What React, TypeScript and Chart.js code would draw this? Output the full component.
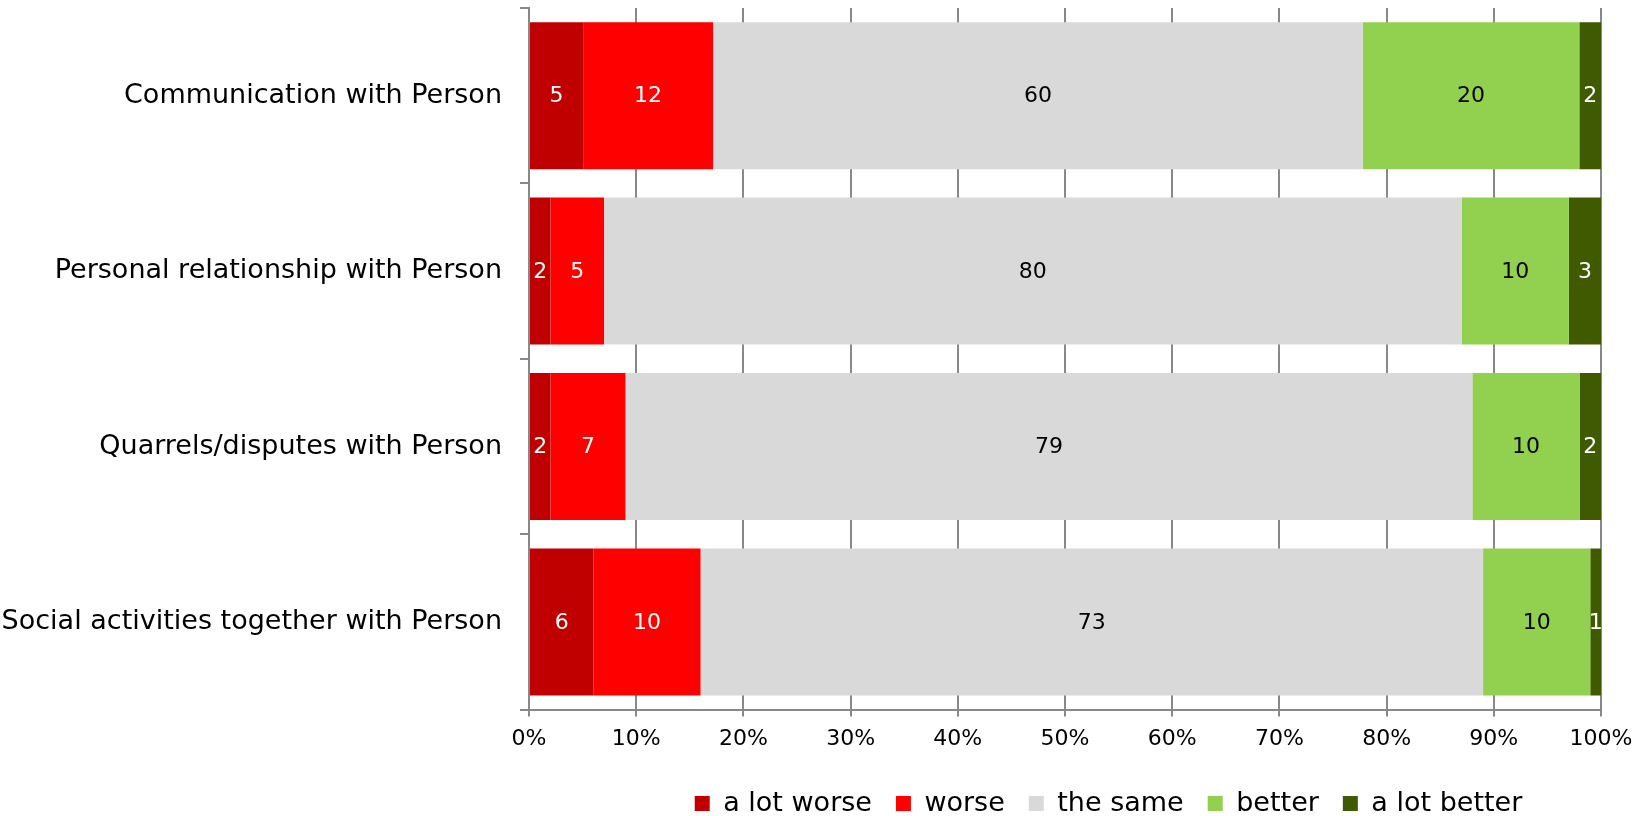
import React, { useEffect, useRef } from "react";
import { Chart, registerables } from "chart.js";

Chart.register(...registerables);

const categories = [
  "Communication with Person",
  "Personal relationship with Person",
  "Quarrels/disputes with Person",
  "Social activities together with Person",
];
const seriesNames = ["a lot worse", "worse", "the same", "better", "a lot better"];
const aLotWorse = [5, 2, 2, 6];
const worse = [12, 5, 7, 10];
const theSame = [60, 80, 79, 73];
const better = [20, 10, 10, 10];
const aLotBetter = [2, 3, 2, 1];
const seriesColors = ["#C00000", "#FF0000", "#D9D9D9", "#92D050", "#3F5A00"];
const labelColors = ["#FFFFFF", "#FFFFFF", "#000000", "#000000", "#FFFFFF"];
const xTickValues = [0, 10, 20, 30, 40, 50, 60, 70, 80, 90, 100];

const FONT = "'DejaVu Sans', Verdana, sans-serif";
const GREY = "#898989";
const LEGEND_SHIFT = 308;
const LEGEND_DY = 5;

export default function App() {
  const ref = useRef<HTMLCanvasElement | null>(null);

  useEffect(() => {
    const raw = [aLotWorse, worse, theSame, better, aLotBetter];
    const totals = categories.map((_, i) => raw.reduce((s, arr) => s + arr[i], 0));
    const datasets = raw.map((arr, k) => ({
      label: seriesNames[k],
      data: arr.map((v, i) => (v / totals[i]) * 100),
      rawValues: arr,
      backgroundColor: seriesColors[k],
      borderWidth: 0,
      barPercentage: 1,
      categoryPercentage: 0.838,
    }));

    const labelPlugin = {
      id: "barLabels",
      afterLayout(chart: any) {
        if (chart.legend) {
          chart.legend.left += LEGEND_SHIFT;
          chart.legend.right += LEGEND_SHIFT;
          chart.legend.top += LEGEND_DY;
          chart.legend.bottom += LEGEND_DY;
        }
      },
      afterDatasetsDraw(chart: any) {
        const ctx = chart.ctx;
        ctx.save();
        ctx.font = `22px ${FONT}`;
        ctx.textAlign = "center";
        ctx.textBaseline = "middle";
        chart.data.datasets.forEach((ds: any, k: number) => {
          const meta = chart.getDatasetMeta(k);
          meta.data.forEach((el: any, i: number) => {
            const p = el.getCenterPoint();
            ctx.fillStyle = labelColors[k];
            ctx.fillText(String(ds.rawValues[i]), p.x, p.y + 1);
          });
        });
        ctx.restore();
      },
    };

    const chart = new Chart(ref.current as HTMLCanvasElement, {
      type: "bar",
      data: { labels: categories, datasets: datasets as any },
      options: {
        indexAxis: "y",
        animation: false,
        responsive: true,
        maintainAspectRatio: false,
        layout: { padding: { top: 8, right: 40, left: 0, bottom: 0 } },
        plugins: {
          tooltip: { enabled: false },
          legend: {
            position: "bottom",
            labels: {
              font: { family: FONT, size: 27 },
              color: "#000",
              boxWidth: 15,
              boxHeight: 15,
              padding: 24,
            },
          },
        },
        scales: {
          x: {
            stacked: true,
            min: 0,
            max: 100,
            afterBuildTicks: (scale: any) => {
              scale.ticks = xTickValues.map((v) => ({ value: v }));
            },
            afterFit: (scale: any) => {
              scale.paddingLeft = 0;
              scale.paddingRight = 0;
            },
            ticks: {
              callback: (v: any) => v + "%",
              font: { family: FONT, size: 22 },
              color: "#000",
              padding: 9,
              maxRotation: 0,
            },
            grid: { color: GREY, lineWidth: 2, tickLength: 7 },
            border: { display: true, color: GREY, width: 2 },
          },
          y: {
            stacked: true,
            afterFit: (scale: any) => {
              scale.width = 529;
              scale.paddingTop = 0;
              scale.paddingBottom = 0;
            },
            ticks: {
              font: { family: FONT, size: 27 },
              color: "#000",
              padding: 18,
            },
            grid: { drawOnChartArea: false, color: GREY, lineWidth: 2, tickLength: 9, offset: true },
            border: { display: true, color: GREY, width: 2 },
          },
        },
      },
      plugins: [labelPlugin],
    });
    return () => chart.destroy();
  }, []);

  return (
    <div style={{ position: "fixed", left: 0, top: 0, width: 1641, height: 816, overflow: "hidden" }}>
      <div style={{ position: "absolute", left: 0, top: 0, width: 1641, height: 822 }}>
        <canvas ref={ref} />
      </div>
    </div>
  );
}
